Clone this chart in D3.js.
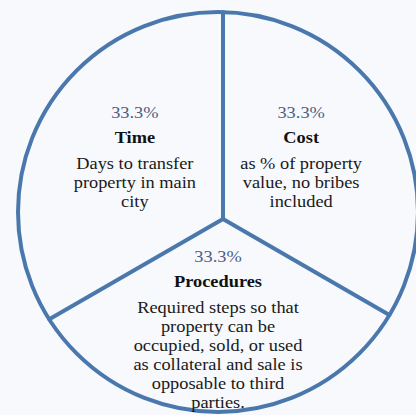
<!DOCTYPE html>
<html>
<head>
<meta charset="utf-8">
<script src="https://cdn.jsdelivr.net/npm/d3@7"></script>
<style>
  html, body { margin: 0; padding: 0; background: #f7f9fc; }
  svg { display: block; }
</style>
</head>
<body>
<div id="chart"></div>
<script>
// parts of the pie, clockwise from 12 o'clock
const categories = ["Cost", "Procedures", "Time"];
const shares = [33.3, 33.3, 33.3];
const descriptions = [
  ["as % of property", "value, no bribes", "included"],
  ["Required steps so that", "property can be", "occupied, sold, or used", "as collateral and sale is", "opposable to third", "parties."],
  ["Days to transfer", "property in main", "city"]
];

const width = 416, height = 415;
const cx = 218, cy = 212, radius = 200;
// the spokes meet a bit off the circle's centre in the original
const hub = { x: 223, y: 219 };
const lineColor = "#4a78ad";
const serif = "\"Liberation Serif\", \"Times New Roman\", serif";

const svg = d3.select("#chart").append("svg")
  .attr("width", width)
  .attr("height", height);

svg.append("rect")
  .attr("width", width)
  .attr("height", height)
  .attr("fill", "#f7f9fc");

const data = categories.map((c, i) => ({ name: c, value: shares[i], desc: descriptions[i] }));
const pie = d3.pie().value(d => d.value).sort(null);
const arcs = pie(data);

const g = svg.append("g").attr("transform", `translate(${cx},${cy})`);

// outer circle
g.append("path")
  .attr("d", d3.arc().innerRadius(0).outerRadius(radius)({ startAngle: 0, endAngle: 2 * Math.PI }))
  .attr("fill", "none")
  .attr("stroke", lineColor)
  .attr("stroke-width", 4);

// spokes: from the hub along each slice start angle until the circle
function spokeEnd(angle) {
  const ux = Math.sin(angle), uy = -Math.cos(angle);
  const px = hub.x - cx, py = hub.y - cy;
  const b = px * ux + py * uy;
  const c = px * px + py * py - radius * radius;
  const t = -b + Math.sqrt(b * b - c);
  return [px + t * ux, py + t * uy];
}

g.selectAll("line.spoke")
  .data(arcs)
  .enter()
  .append("line")
  .attr("class", "spoke")
  .attr("x1", hub.x - cx)
  .attr("y1", hub.y - cy)
  .attr("x2", d => spokeEnd(d.startAngle)[0])
  .attr("y2", d => spokeEnd(d.startAngle)[1])
  .attr("stroke", lineColor)
  .attr("stroke-width", 4)
  .attr("stroke-linecap", "round");

// labels (text in the original is a little stretched sideways)
const labelArc = d3.arc().innerRadius(96).outerRadius(96);
const fontSize = 17, lineH = 19;

const labels = g.selectAll("g.label")
  .data(arcs)
  .enter()
  .append("g")
  .attr("class", "label")
  .attr("transform", d => {
    const [x, y] = labelArc.centroid(d);
    return `translate(${x},${y - 46}) scale(1.08,1)`;
  });

labels.append("text")
  .attr("y", 0)
  .attr("text-anchor", "middle")
  .style("font-family", serif)
  .style("font-size", fontSize + "px")
  .attr("fill", "#4f5f84")
  .text(d => d.data.value.toFixed(1) + "%");

labels.append("text")
  .attr("y", 25)
  .attr("text-anchor", "middle")
  .style("font-family", serif)
  .style("font-size", fontSize + "px")
  .style("font-weight", "bold")
  .attr("fill", "#111")
  .text(d => d.data.name);

labels.each(function(d) {
  d3.select(this).selectAll("text.desc")
    .data(d.data.desc)
    .enter()
    .append("text")
    .attr("class", "desc")
    .attr("y", (t, i) => 51 + i * lineH)
    .attr("text-anchor", "middle")
    .style("font-family", serif)
    .style("font-size", fontSize + "px")
    .attr("fill", "#1a1a1a")
    .text(t => t);
});
</script>
</body>
</html>
